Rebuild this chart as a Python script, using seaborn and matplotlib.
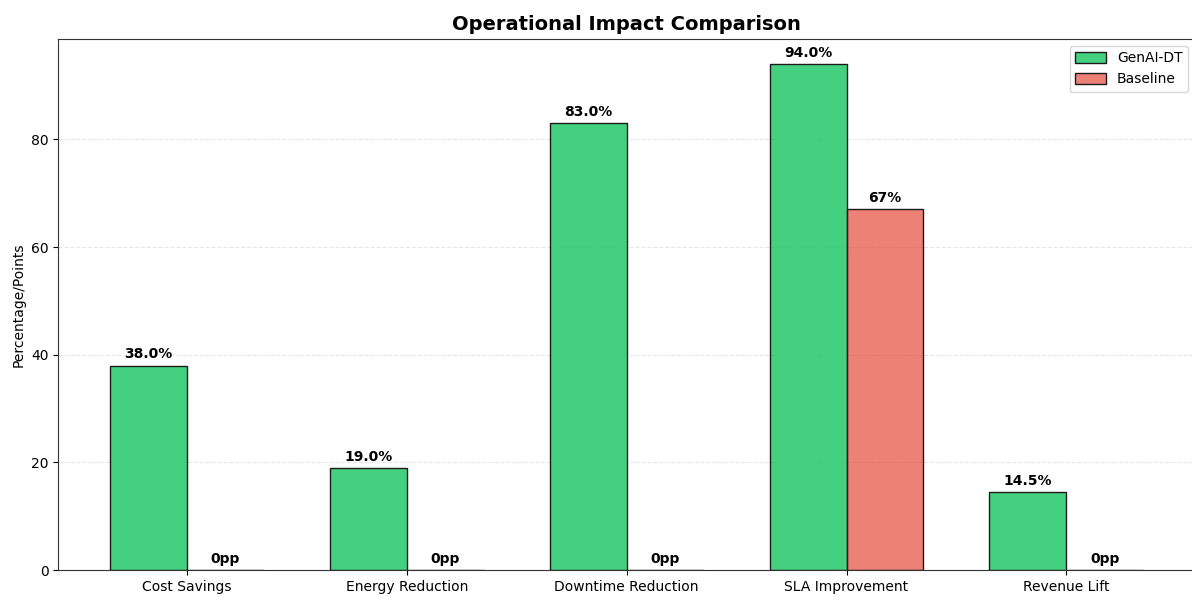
import numpy as np
import pandas as pd
import matplotlib
matplotlib.use("Agg")
import matplotlib.pyplot as plt
import seaborn as sns

categories = ["Cost Savings", "Energy Reduction", "Downtime Reduction", "SLA Improvement", "Revenue Lift"]
genai_values = [38.0, 19.0, 83.0, 94.0, 14.5]
baseline_values = [0, 0, 0, 67, 0]
genai_labels = ["38.0%", "19.0%", "83.0%", "94.0%", "14.5%"]
baseline_labels = ["0pp", "0pp", "0pp", "67%", "0pp"]
series_names = ["GenAI-DT", "Baseline"]

df = pd.DataFrame({
    "Metric": categories * 2,
    "Value": genai_values + baseline_values,
    "Series": [series_names[0]] * len(categories) + [series_names[1]] * len(categories),
})

fig, ax = plt.subplots(figsize=(11.92, 5.97), dpi=100)
palette = {"GenAI-DT": "#2ecc71", "Baseline": "#e74c3c"}
sns.barplot(data=df, x="Metric", y="Value", hue="Series", hue_order=series_names,
            palette=palette, width=0.7, edgecolor="#1a1a1a", linewidth=1,
            saturation=1, ax=ax, errorbar=None)

alphas = {"GenAI-DT": 0.9, "Baseline": 0.7}
labels_map = {"GenAI-DT": genai_labels, "Baseline": baseline_labels}
for cont, name in zip(ax.containers, series_names):
    for p in cont.patches:
        fc = p.get_facecolor()
        p.set_facecolor((fc[0], fc[1], fc[2], alphas[name]))
    ax.bar_label(cont, labels=labels_map[name], padding=3, fontsize=10, fontweight="bold")

ax.set_title("Operational Impact Comparison", fontsize=14, fontweight="bold")
ax.set_xlabel("")
ax.set_ylabel("Percentage/Points", fontsize=10)
ax.grid(axis="y", linestyle="--", alpha=0.3)
ax.set_axisbelow(True)
ax.set_ylim(0, 98.7)
ax.margins(x=0.05)
for s in ax.spines.values():
    s.set_color("#333333")
leg = ax.legend(loc="upper right", fontsize=10, handlelength=2.2, handleheight=0.8)
for h, name in zip(leg.legend_handles, series_names):
    fc = h.get_facecolor()
    h.set_facecolor((fc[0], fc[1], fc[2], alphas[name]))
    h.set_edgecolor("#1a1a1a")

fig.subplots_adjust(left=0.049, right=1.0025, top=0.935, bottom=0.045)
fig.savefig("out.png", dpi=100)
